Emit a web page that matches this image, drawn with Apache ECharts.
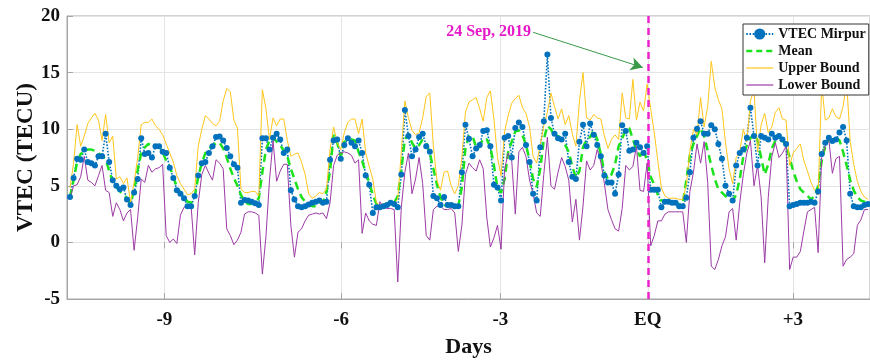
<!DOCTYPE html>
<html>
<head>
<meta charset="utf-8">
<script src="https://cdn.jsdelivr.net/npm/echarts@6/dist/echarts.min.js"></script>
<style>
  html, body { margin: 0; padding: 0; background: #fff; }
  #chart { width: 870px; height: 360px; }
</style>
</head>
<body>
<div id="chart"></div>
<script>
// Sample-by-sample VTEC at Mirpur (TECU), one value per sample index
const vtec = [
  4.0, 5.7, 7.4, 7.3, 8.2, 7.1, 7.0, 6.8, 7.6, 7.6, 9.6, 7.1, 5.5, 5.0, 4.7, 4.85, 3.8, 3.3, 4.4, 5.6,
  9.2, 7.8, 7.9, 7.5, 8.5, 8.5, 8.0, 7.9, 6.6, 5.7, 4.6, 4.3, 3.9, 3.2, 3.2, 4.1, 5.9, 7.0, 7.1, 7.9,
  8.5, 9.3, 9.35, 9.0, 8.35, 7.6, 6.9, 6.6, 3.5, 3.75, 3.7, 3.6, 3.45, 3.3, 9.2, 9.2, 8.2, 9.25, 9.6, 9.1,
  7.9, 8.2, 4.6, 3.8, 3.2, 3.1, 3.2, 3.35, 3.5, 3.6, 3.7, 3.5, 3.6, 7.3, 9.0, 9.1, 7.4, 8.6, 9.2, 8.8,
  8.5, 9.0, 7.9, 5.9, 5.1, 2.6, 3.1, 3.1, 3.2, 3.3, 3.5, 3.4, 3.1, 6.0, 11.7, 9.4, 7.6, 8.2, 9.3, 9.6,
  8.5, 8.0, 4.1, 3.9, 3.3, 4.0, 3.3, 3.3, 3.2, 3.2, 6.2, 10.4, 9.15, 7.6, 8.3, 8.6, 9.85, 9.9, 8.5, 5.1,
  4.85, 3.7, 9.25, 9.4, 7.5, 10.1, 10.6, 10.2, 8.6, 7.1, 4.3, 3.7, 8.4, 10.7, 16.6, 11.0, 9.6, 9.2, 9.1, 9.6,
  7.1, 5.8, 5.6, 8.9, 10.4, 8.5, 10.5, 9.5, 8.6, 7.6, 5.9, 5.3, 5.3, 4.3, 6.0, 10.35, 9.85, 8.1, 8.2, 8.8,
  8.4, 7.9, 8.5, 4.65, 4.65, 4.65, 3.1, 3.6, 3.6, 3.5, 3.5, 3.2, 3.2, 3.95, 6.2, 9.25, 10.05, 10.7, 9.6, 9.6,
  10.35, 10.0, 8.7, 7.4, 5.0, 4.3, 3.7, 6.8, 7.9, 8.2, 9.25, 11.9, 9.4, 6.8, 9.4, 9.25, 9.1, 9.6, 9.25, 9.4,
  9.1, 8.7, 3.2, 3.3, 3.4, 3.5, 3.5, 3.5, 3.6, 3.5, 4.5, 7.8, 8.8, 9.25, 8.95, 9.1, 9.7, 10.2, 9.0, 4.3,
  3.2, 3.1, 3.1, 3.3, 3.4
];

// Running mean of the quiet reference days
const meanTec = [
  4.0, 5.5, 7.1, 7.8, 8.1, 8.2, 8.2, 8.1, 7.9, 7.6, 7.4, 6.3, 5.4, 4.9, 4.5, 4.2, 3.9, 3.5, 4.6, 6.4,
  7.9, 8.4, 8.7, 8.5, 8.4, 8.5, 8.0, 7.2, 6.7, 5.8, 4.9, 4.4, 4.0, 3.6, 3.5, 4.0, 5.8, 7.0, 7.9, 8.3,
  8.5, 8.8, 8.8, 8.3, 7.5, 6.5, 5.7, 5.0, 4.2, 3.6, 3.4, 3.4, 3.6, 3.9, 6.2, 8.2, 9.0, 9.3, 8.9, 8.6,
  8.1, 7.6, 6.5, 5.6, 4.7, 4.0, 3.6, 3.4, 3.2, 3.2, 3.5, 3.5, 4.5, 6.3, 9.5, 8.8, 7.6, 8.9, 9.0, 9.1,
  9.0, 8.0, 7.2, 6.2, 5.3, 4.2, 3.4, 3.2, 3.2, 3.3, 3.4, 3.5, 4.1, 6.4, 9.1, 9.6, 8.8, 8.3, 8.6, 9.1,
  8.8, 7.9, 6.5, 5.1, 4.0, 3.3, 3.2, 3.2, 3.2, 3.2, 4.9, 8.3, 9.4, 9.4, 8.4, 8.4, 9.2, 9.1, 8.4, 6.8,
  4.8, 4.4, 5.6, 8.0, 8.9, 9.8, 9.9, 9.5, 8.6, 7.3, 5.6, 4.9, 6.5, 9.1, 10.3, 10.0, 9.4, 9.4, 9.1, 8.6,
  8.0, 6.7, 5.7, 6.3, 8.4, 9.1, 9.3, 9.9, 9.1, 7.8, 6.2, 5.6, 6.0, 6.9, 8.5, 9.2, 9.9, 10.1, 9.1, 8.2,
  7.6, 8.2, 7.2, 5.8, 5.1, 4.2, 3.7, 3.7, 3.6, 3.5, 3.4, 3.4, 3.4, 5.5, 7.7, 8.7, 9.4, 10.1, 9.4, 8.1,
  6.8, 5.6, 4.7, 4.4, 4.1, 3.8, 3.7, 4.2, 5.6, 7.6, 8.6, 9.2, 9.6, 9.0, 7.5, 6.0, 6.9, 8.3, 9.0, 9.1,
  9.0, 8.6, 7.5, 6.3, 5.4, 4.7, 4.4, 4.1, 3.8, 4.1, 5.0, 7.2, 8.5, 9.1, 9.0, 9.3, 9.0, 8.0, 6.8, 5.5,
  4.6, 4.0, 3.7, 3.6, 3.5
];

// Upper limit of the quiet-time band
const upperBound = [
  4.8, 7.0, 10.4, 8.5, 9.4, 10.5, 11.0, 11.4, 10.8, 9.0, 11.3, 8.8, 9.4, 5.6, 5.8, 5.2, 5.7, 3.5, 5.3, 7.5,
  10.4, 10.6, 10.6, 10.9, 10.3, 10.0, 9.5, 8.7, 7.9, 7.1, 5.9, 5.2, 4.7, 4.2, 4.3, 4.7, 8.5, 10.0, 11.2, 10.9,
  10.5, 10.3, 10.7, 12.5, 13.6, 13.3, 10.8, 10.1, 4.7, 4.4, 4.4, 4.5, 4.5, 4.1, 13.5, 11.8, 9.1, 11.0, 10.3, 10.9,
  10.9, 9.0, 7.6, 7.8, 7.9, 7.1, 6.0, 4.3, 3.9, 4.1, 4.4, 4.3, 4.7, 8.2, 10.2, 8.8, 8.2, 9.7, 10.6, 10.9,
  10.9, 9.6, 10.9, 7.9, 6.7, 5.6, 3.5, 3.3, 3.4, 3.5, 3.5, 3.5, 3.8, 8.0, 12.5, 11.0, 9.9, 9.5, 9.7, 11.0,
  12.9, 13.2, 8.5, 5.5, 4.6, 6.2, 6.3, 5.0, 4.3, 5.0, 7.5, 11.5, 12.4, 12.6, 12.8, 11.8, 10.7, 12.8, 13.4, 10.9,
  7.5, 5.9, 9.8, 11.2, 12.3, 12.7, 13.0, 11.9, 11.4, 10.2, 7.6, 7.0, 8.6, 10.3, 11.5, 13.2, 12.0, 10.9, 11.8, 10.4,
  11.2, 9.6, 8.5, 12.5, 15.0, 11.0, 10.8, 11.3, 11.0, 10.9, 9.4, 8.3, 9.1, 9.5, 9.1, 13.2, 11.0, 10.9, 14.4, 10.8,
  12.4, 11.6, 14.0, 11.8, 9.7, 7.2, 4.8, 4.1, 3.9, 3.9, 3.9, 3.8, 3.8, 5.1, 8.1, 10.0, 9.5, 12.8, 10.2, 12.0,
  16.0, 13.7, 12.6, 11.8, 8.8, 6.5, 5.2, 7.5, 8.0, 10.0, 8.9, 12.5, 13.5, 8.0, 10.4, 11.4, 9.7, 10.2, 11.5, 11.9,
  10.9, 10.8, 6.8, 7.9, 8.3, 8.7, 7.2, 6.3, 5.3, 4.6, 4.2, 14.0, 10.8, 11.0, 11.8, 11.1, 10.9, 12.0, 14.2, 8.9,
  6.9, 5.4, 4.5, 4.0, 3.8
];

// Lower limit of the quiet-time band
const lowerBound = [
  3.9, 5.0, 5.1, 5.8, 7.6, 5.5, 5.3, 5.0, 5.9, 6.8, 4.6, 4.4, 2.3, 3.5, 2.9, 1.9, 2.6, 2.9, -0.7, 2.2,
  5.6, 5.3, 6.8, 6.2, 6.5, 6.6, 6.9, 0.6, 0.0, 0.3, -0.1, 2.4, 3.1, 3.2, 3.2, -1.1, 3.5, 6.0, 6.8, 6.1,
  5.5, 7.3, 7.0, 6.5, 1.2, 0.6, -0.2, 0.2, 0.9, 2.5, 2.7, 2.7, 2.6, 2.4, -2.8, 0.5, 5.5, 9.0, 5.4, 6.3,
  6.9, 6.9, 1.5, -1.3, 0.9, 1.2, 1.9, 2.4, 2.5, 2.6, 2.5, 2.6, 2.1, 3.5, 6.8, 7.7, 7.9, 8.0, 7.9, 7.7,
  7.0, 7.3, 0.8, 2.6, 1.9, 1.6, 1.5, 3.6, 3.1, 3.0, 3.0, 2.9, -3.5, 3.1, 6.2, 7.9, 4.3, 5.6, 7.5, 5.2,
  0.6, 0.2, 2.9, 3.2, 3.2, 2.9, 2.9, 3.0, 2.6, -0.8, 1.5, 6.0, 7.0, 6.6, 6.3, 7.3, 6.5, 2.2, -0.4, 0.4,
  1.5, -0.6, 6.5, 7.9, 7.2, 2.5, 8.0, 8.4, 7.6, 5.5, 4.3, 2.6, 2.3, 6.0, 9.3, 5.0, 4.7, 6.2, 7.5, 6.7,
  5.5, 1.8, 3.8, 0.2, 3.2, 7.2, 6.4, 6.8, 8.2, 7.1, 5.2, 2.9, 2.0, 1.2, 1.0, 3.0, 6.8, 6.4, 6.7, 8.5,
  4.6, 4.5, 7.0, -0.3, 0.6, 1.9, 1.9, 2.5, 2.7, 2.7, 2.7, 2.7, 2.7, 0.0, 4.5, 6.2, 8.7, 7.0, 8.9, 5.3,
  -2.1, -2.4, -1.5, -0.3, 0.5, 2.7, 3.0, 0.2, 3.5, 6.0, 7.9, 9.0, 5.0, 6.8, 4.0, -1.8, 4.0, 7.6, 8.8, 7.5,
  7.9, 8.5, -2.4, -1.3, -1.3, -0.8, 1.0, 2.7, 2.9, 3.1, -0.9, 7.5, 8.5, 9.1, 6.1, 7.4, 7.6, -2.1, -1.5, -1.3,
  -1.0, 1.5, 2.0, 2.9, 2.9
];

// Day marks along the sample axis and their labels
const dayTickAt = [26.5, 76.1, 120.8, 162.2, 202.9];
const dayTickLabels = ['-9', '-6', '-3', 'EQ', '+3'];
const eqIndex = 162.2;

// Annotation of the 24 Sep 2019 event (data coordinates)
const noteText = '24 Sep, 2019';
const noteFrom = [130.0, 18.56];
const noteTo = [160.8, 15.45];

const yTicks = { min: -5, max: 20, step: 5 };
const xRange = { min: -0.84, max: 224.56 };

const serif = "'Liberation Serif', 'Times New Roman', serif";
const withIndex = arr => arr.map((v, i) => [i, v]);

const chart = echarts.init(document.getElementById('chart'), null, { renderer: 'canvas' });

const dayLabel = v => {
  let best = 0, bestD = Infinity;
  dayTickAt.forEach((p, k) => { const d = Math.abs(p - v); if (d < bestD) { bestD = d; best = k; } });
  return dayTickLabels[best];
};

const colors = {
  vtec: '#0072BD',
  mean: '#1be21b',
  upper: '#ffc61a',
  lower: '#9c3aa6'
};

chart.setOption({
  animation: false,
  backgroundColor: '#ffffff',
  grid: {
    left: 67, right: 0, top: 16, bottom: 61,
    outerBoundsMode: 'none',
    show: true, borderColor: '#a6a6a6', borderWidth: 1, backgroundColor: '#ffffff'
  },
  legend: {
    orient: 'vertical',
    left: 743, top: 24,
    padding: [3, 3, 3, 2],
    itemGap: 3,
    itemWidth: 27, itemHeight: 14,
    backgroundColor: '#ffffff',
    borderColor: '#333333', borderWidth: 1,
    textStyle: { fontFamily: serif, fontWeight: 'bold', fontSize: 14, color: '#111', lineHeight: 14 },
    data: [
      { name: 'VTEC Mirpur' },
      { name: 'Mean', itemStyle: { opacity: 0 }, lineStyle: { color: colors.mean, width: 2.5, type: [6, 4] } },
      { name: 'Upper Bound', itemStyle: { opacity: 0 }, lineStyle: { color: colors.upper, width: 1.2 } },
      { name: 'Lower Bound', itemStyle: { opacity: 0 }, lineStyle: { color: colors.lower, width: 1.2 } }
    ]
  },
  xAxis: [
    {
      type: 'value',
      min: xRange.min, max: xRange.max,
      name: 'Days', nameLocation: 'middle', nameGap: 37, nameMoveOverlap: false,
      nameTextStyle: { fontFamily: serif, fontWeight: 'bold', fontSize: 22, color: '#111' },
      axisLine: { show: true, onZero: false, lineStyle: { color: '#a6a6a6', width: 1 } },
      axisTick: { show: true, inside: true, length: 6, customValues: dayTickAt, lineStyle: { color: '#a6a6a6' } },
      axisLabel: {
        customValues: dayTickAt, formatter: dayLabel, margin: 12,
        fontFamily: serif, fontWeight: 'bold', fontSize: 19, color: '#111'
      },
      splitLine: { show: true, lineStyle: { color: '#e4e4e4', width: 1 } }
    },
    {
      type: 'value', position: 'top',
      min: xRange.min, max: xRange.max,
      axisLine: { show: false },
      axisTick: { show: true, inside: true, length: 6, customValues: dayTickAt, lineStyle: { color: '#a6a6a6' } },
      axisLabel: { show: false },
      splitLine: { show: false }
    }
  ],
  yAxis: {
    type: 'value',
    min: yTicks.min, max: yTicks.max, interval: yTicks.step,
    name: 'VTEC (TECU)', nameLocation: 'middle', nameGap: 29, nameMoveOverlap: false,
    nameTextStyle: { fontFamily: serif, fontWeight: 'bold', fontSize: 23, color: '#111' },
    axisLine: { show: true, onZero: false, lineStyle: { color: '#a6a6a6', width: 1 } },
    axisTick: { show: true, inside: true, length: 6, lineStyle: { color: '#a6a6a6' } },
    axisLabel: { margin: 7, fontFamily: serif, fontWeight: 'bold', fontSize: 19, color: '#111' },
    splitLine: { show: true, lineStyle: { color: '#e4e4e4', width: 1 } }
  },
  series: [
    {
      name: 'VTEC Mirpur',
      type: 'line',
      data: withIndex(vtec),
      symbol: 'circle', symbolSize: 6, showAllSymbol: true,
      itemStyle: { color: colors.vtec },
      lineStyle: { color: colors.vtec, width: 1.6, type: [1.6, 1.6] },
      emphasis: { disabled: true },
      markLine: {
        silent: true,
        symbol: ['none', 'none'],
        label: { show: false },
        emphasis: { disabled: true },
        data: [
          { xAxis: eqIndex, lineStyle: { color: '#ee22cc', width: 2.5, type: [7, 5] } },
          [
            { coord: noteFrom, symbol: 'none', lineStyle: { color: '#3a9a4a', width: 1, type: 'solid' } },
            { coord: noteTo, symbol: 'arrow', symbolSize: [10, 12] }
          ]
        ]
      },
      markPoint: {
        silent: true,
        symbol: 'circle', symbolSize: 0,
        data: [{
          coord: noteFrom,
          label: {
            show: true, position: 'left', distance: 2,
            formatter: noteText,
            fontFamily: serif, fontWeight: 'bold', fontSize: 16, color: '#e619c8'
          }
        }]
      },
      z: 3
    },
    {
      name: 'Mean',
      type: 'line',
      data: withIndex(meanTec),
      symbol: 'none',
      itemStyle: { color: colors.mean },
      lineStyle: { color: colors.mean, width: 2.5, type: [8, 5] },
      emphasis: { disabled: true },
      z: 3
    },
    {
      name: 'Upper Bound',
      type: 'line',
      data: withIndex(upperBound),
      symbol: 'none',
      itemStyle: { color: colors.upper },
      lineStyle: { color: colors.upper, width: 1 },
      emphasis: { disabled: true },
      z: 3
    },
    {
      name: 'Lower Bound',
      type: 'line',
      data: withIndex(lowerBound),
      symbol: 'none',
      itemStyle: { color: colors.lower },
      lineStyle: { color: colors.lower, width: 1 },
      emphasis: { disabled: true },
      z: 3
    }
  ]
});
</script>
</body>
</html>
